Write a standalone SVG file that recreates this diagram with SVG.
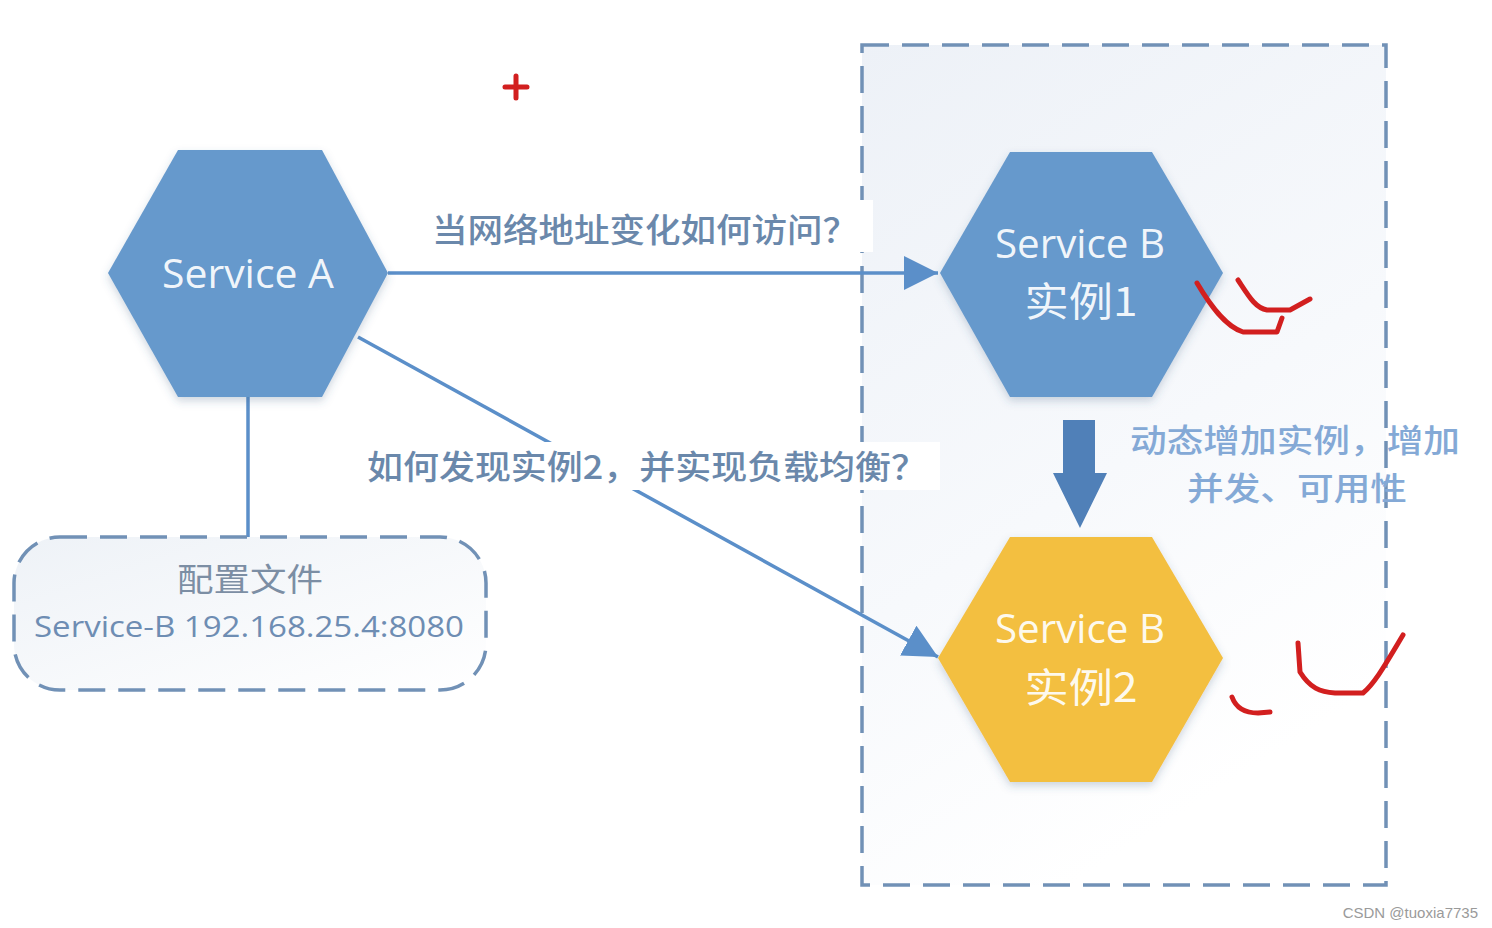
<svg xmlns="http://www.w3.org/2000/svg" width="1492" height="928" viewBox="0 0 1492 928">
<defs>
  <linearGradient id="boxFill" x1="0" y1="0" x2="0.4" y2="1">
    <stop offset="0" stop-color="#edf1f7"/>
    <stop offset="0.6" stop-color="#f7f9fc"/>
    <stop offset="1" stop-color="#ffffff"/>
  </linearGradient>
  <linearGradient id="cfgFill" x1="0" y1="0" x2="1" y2="1">
    <stop offset="0" stop-color="#eef2f7"/>
    <stop offset="1" stop-color="#ffffff"/>
  </linearGradient>
  <filter id="shadow" x="-20%" y="-20%" width="140%" height="140%">
    <feDropShadow dx="0" dy="4" stdDeviation="4" flood-color="#3a5a80" flood-opacity="0.25"/>
  </filter>
  <marker id="arrowHead" markerUnits="userSpaceOnUse" markerWidth="36" markerHeight="34" refX="34" refY="17" orient="auto">
    <path d="M0,0 L34,17 L0,34 Z" fill="#5b8fc9"/>
  </marker>
</defs>
<style>
  .dash { fill: none; stroke: #7191b6; stroke-width: 3.5; stroke-dasharray: 27 13; }
  .hexBlue { fill: #6699cc; filter: url(#shadow); }
  .hexYellow { fill: #f3bf40; filter: url(#shadow); }
  .hexText { fill: #ffffff; fill-opacity: 0.92; font-family: "Open Sans", "Noto Sans", "Noto Sans CJK SC", sans-serif; font-size: 40px; text-anchor: middle; }
  .cjk { font-family: "Noto Sans CJK SC", sans-serif; }
  .conn { fill: none; stroke: #5b8fc9; stroke-width: 3.5; }
  .label { fill: #6a88ab; font-family: "Noto Sans CJK SC", sans-serif; font-size: 33px; font-weight: 500; }
  .note { fill: #84a9d6; font-family: "Noto Sans CJK SC", sans-serif; font-size: 32px; font-weight: 500; }
  .red { fill: none; stroke: #d21f1f; stroke-width: 5; stroke-linecap: round; stroke-linejoin: round; }
</style>
<rect x="0" y="0" width="1492" height="928" fill="#ffffff"/>

<g id="container">
  <rect x="862" y="45" width="524" height="840" fill="url(#boxFill)"/>
  <rect x="862" y="45" width="524" height="840" class="dash"/>
</g>

<g id="connectors">
  <line x1="248" y1="397" x2="248" y2="537" class="conn"/>
  <line x1="388" y1="273" x2="938" y2="273" class="conn" marker-end="url(#arrowHead)"/>
  <line x1="358" y1="337" x2="938" y2="657" class="conn" marker-end="url(#arrowHead)"/>
  <path d="M1063,420 L1095,420 L1095,473 L1107,473 L1080,528 L1053,473 L1063,473 Z" fill="#5080b8"/>
</g>

<g id="label1">
  <rect x="424" y="200" width="449" height="52" fill="#ffffff"/>
  <text x="432" y="242" class="label" textLength="426" lengthAdjust="spacingAndGlyphs">当网络地址变化如何访问？</text>
</g>

<g id="label2">
  <rect x="360" y="442" width="580" height="48" fill="#ffffff"/>
  <text x="367" y="479" class="label" textLength="560" lengthAdjust="spacingAndGlyphs">如何发现实例2，并实现负载均衡？</text>
</g>

<g id="serviceA">
  <polygon points="178,150 322,150 388,273 322,397 178,397 108,273" class="hexBlue"/>
  <text x="248" y="288" class="hexText" textLength="172" lengthAdjust="spacingAndGlyphs">Service A</text>
</g>

<g id="serviceB1">
  <polygon points="1010,152 1152,152 1223,273 1152,397 1010,397 940,273" class="hexBlue"/>
  <text x="1080" y="258" class="hexText" textLength="170" lengthAdjust="spacingAndGlyphs">Service B</text>
  <text x="1081" y="316" class="hexText cjk" textLength="113" lengthAdjust="spacingAndGlyphs">实例1</text>
</g>

<g id="serviceB2">
  <polygon points="1010,537 1152,537 1223,658 1152,782 1010,782 938,658" class="hexYellow"/>
  <text x="1080" y="643" class="hexText" textLength="170" lengthAdjust="spacingAndGlyphs">Service B</text>
  <text x="1081" y="702" class="hexText cjk" textLength="113" lengthAdjust="spacingAndGlyphs">实例2</text>
</g>

<g id="note">
  <text x="1130" y="452" class="note" textLength="330" lengthAdjust="spacingAndGlyphs">动态增加实例，增加</text>
  <text x="1187" y="500" class="note" textLength="220" lengthAdjust="spacingAndGlyphs">并发、可用性</text>
</g>

<g id="config">
  <rect x="14" y="537" width="472" height="153" rx="46" ry="46" fill="url(#cfgFill)"/>
  <rect x="14" y="537" width="472" height="153" rx="46" ry="46" class="dash"/>
  <text x="250" y="591" fill="#7c8ea4" font-family="Noto Sans CJK SC, sans-serif" font-size="32" text-anchor="middle" textLength="146" lengthAdjust="spacingAndGlyphs">配置文件</text>
  <text x="34" y="637" fill="#6e8db3" font-family="Open Sans, Liberation Sans, sans-serif" font-size="30" textLength="430" lengthAdjust="spacingAndGlyphs">Service-B 192.168.25.4:8080</text>
</g>

<g id="annotations">
  <path d="M505,87 L527,87 M516,76 L516,98" class="red"/>
  <path d="M1197,283 C1210,305 1225,326 1243,332 L1277,332 L1282,318" class="red"/>
  <path d="M1238,280 C1248,295 1255,308 1267,310 L1290,310 L1310,299" class="red"/>
  <path d="M1298,643 L1300,672 C1310,688 1320,692 1335,693 L1363,693 C1375,683 1385,665 1403,635" class="red"/>
  <path d="M1232,697 C1236,708 1245,713 1258,713 L1270,712" class="red"/>
</g>

<text x="1478" y="918" fill="#9a9a9a" font-family="Liberation Sans, sans-serif" font-size="15" text-anchor="end">CSDN @tuoxia7735</text>
</svg>
